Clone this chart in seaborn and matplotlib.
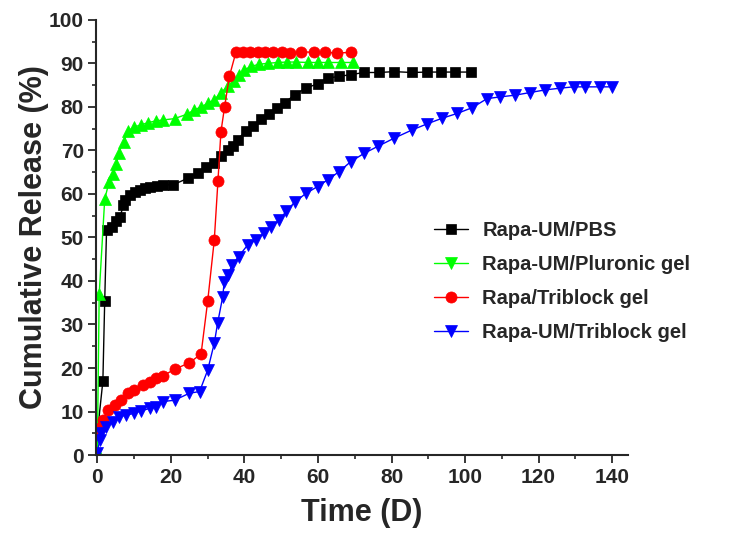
import matplotlib
matplotlib.use("Agg")
import matplotlib.pyplot as plt
import seaborn as sns
from matplotlib.ticker import MultipleLocator

# Rapa-UM/PBS
pbs_day = [0, 1.5, 2, 2.5, 3.9, 5.2, 6.2, 7.1, 7.5, 8.9, 10.2, 11.6, 12.9, 14.3, 16.1,
           17.9, 20.6, 24.6, 27.3, 29.6, 31.8, 33.6, 35.5, 36.8, 38.2, 40.4, 42.4,
           44.5, 46.7, 48.8, 51, 53.7, 56.7, 59.9, 62.6, 65.7, 68.9, 72.5, 76.6,
           80.7, 85.6, 89.7, 93.5, 97.4, 101.5]
pbs_rel = [5, 17, 35.5, 51.7, 52.5, 53.7, 54.8, 57.5, 58.6, 59.8, 60.5, 60.9, 61.3, 61.7, 61.8,
           62.1, 62.1, 63.6, 64.8, 66.3, 67, 68.6, 70.1, 70.9, 72.5, 74.5, 75.7,
           77.2, 78.4, 79.7, 81, 82.8, 84.3, 85.3, 86.6, 87, 87.4, 87.9, 87.9,
           88.1, 87.9, 88, 88, 88, 88]

# Rapa-UM/Pluronic gel
plu_day = [0, 0.5, 2, 3.2, 4.3, 5.2, 5.8, 7.2, 8.4, 10.1, 12, 13.9, 16, 17.9, 21, 24.3,
           26.4, 28.2, 30, 31.8, 33.6, 35.5, 37.2, 38.6, 40, 41.8, 44, 46.3, 49, 51.7,
           54, 57.2, 60, 62.7, 66.2, 69.5]
plu_rel = [1, 37, 58.8, 62.8, 64.5, 66.8, 69.5, 72, 74.5, 75.4, 75.9, 76.4, 76.8, 77, 77.3, 78.3,
           79.3, 80, 80.8, 81.6, 83.3, 84.7, 85.9, 87.4, 88.5, 89.3, 89.8, 90, 90.2, 90.3,
           90.3, 90.2, 90.2, 90.2, 90.2, 90.2]

# Rapa/Triblock gel
tri_day = [0, 1.1, 1.5, 2.9, 4.7, 6.5, 8.3, 10.1, 12.4, 14.2, 16, 17.8, 21, 25, 28.2,
           30, 31.8, 32.8, 33.6, 34.6, 35.9, 37.7, 39.5, 41.6, 43.6, 45.7, 47.8, 50.2,
           52.5, 55.5, 58.8, 62, 65.3, 68.9]
tri_rel = [5, 6.5, 8, 10.3, 11.5, 12.6, 14.2, 14.9, 16.1, 16.9, 17.6, 18.2, 19.7, 21.2, 23.2,
           35.3, 49.4, 63, 74.2, 80, 87, 92.6, 92.6, 92.6, 92.6, 92.6, 92.6, 92.5,
           92.4, 92.7, 92.5, 92.5, 92.4, 92.5]

# Rapa-UM/Triblock gel
umt_day = [0, 0.6, 1.1, 2.4, 4.3, 6, 7.9, 10.1, 11.9, 14.2, 16, 17.8, 21, 25, 27.8, 30,
           31.8, 32.7, 34.1, 34.5, 35.5, 36.6, 38.4, 40.9, 43.1, 45.4, 47.2, 49.5, 51.3,
           53.8, 56.7, 59.9, 62.6, 65.7, 68.9, 72.5, 76.2, 80.7, 85.6, 89.7, 93.8, 97.9,
           101.9, 106, 109.6, 113.7, 117.7, 121.8, 125.9, 129.5, 132.7, 136.7, 139.9]
umt_rel = [0.4, 3.4, 5, 6.5, 7.7, 8.8, 9.2, 9.6, 10.2, 10.7, 11.1, 12.3, 12.6, 14.2, 14.6, 19.5,
           25.7, 30.3, 36.4, 39.8, 41.4, 43.6, 45.6, 48.3, 49.4, 51, 52.5, 53.9, 56,
           58.2, 60.1, 61.7, 63.2, 65.1, 67.4, 69.3, 70.9, 72.8, 74.7, 76.1, 77.4, 78.5,
           79.8, 81.9, 82.3, 82.7, 83.3, 83.9, 84.3, 84.6, 84.6, 84.6, 84.6]

series = [
    (pbs_day, pbs_rel, "Rapa-UM/PBS", "black", "s", 7),
    (plu_day, plu_rel, "Rapa-UM/Pluronic gel", "#00ff00", "^", 9),
    (tri_day, tri_rel, "Rapa/Triblock gel", "#ff0000", "o", 8),
    (umt_day, umt_rel, "Rapa-UM/Triblock gel", "#0000ff", "v", 9),
]

sns.set_style("ticks")
plt.rcParams["font.family"] = ["Liberation Sans", "DejaVu Sans"]
plt.rcParams["font.weight"] = "bold"

fig = plt.figure(figsize=(7.52, 5.36), dpi=100)
ax = fig.add_axes([0.128, 0.151, 0.707, 0.812])

for x, y, name, c, m, ms in series:
    sns.lineplot(x=x, y=y, ax=ax, label=name, color=c, marker=m, markersize=ms,
                 markeredgecolor=c, markeredgewidth=0.5, linewidth=1,
                 estimator=None, sort=False)

ax.set_xlim(-0.3, 144.3)
ax.set_ylim(0, 100)
ax.xaxis.set_major_locator(MultipleLocator(20))
ax.xaxis.set_minor_locator(MultipleLocator(10))
ax.yaxis.set_major_locator(MultipleLocator(10))
ax.yaxis.set_minor_locator(MultipleLocator(5))
ax.tick_params(which="major", direction="out", length=6, width=1.3, labelsize=15, pad=3)
ax.tick_params(which="minor", direction="out", length=3, width=1.2)
for lab in ax.get_xticklabels() + ax.get_yticklabels():
    lab.set_fontweight("bold")
sns.despine(ax=ax)
for s in ["left", "bottom"]:
    ax.spines[s].set_linewidth(1.5)

ax.set_xlabel("Time (D)", fontsize=22, fontweight="bold", labelpad=8)
ax.set_ylabel("Cumulative Release (%)", fontsize=22, fontweight="bold", labelpad=0)

leg = ax.legend(loc="center left", bbox_to_anchor=(0.553, 0.475), bbox_transform=fig.transFigure,
                frameon=False, prop={"size": 14.5, "weight": "bold"}, handlelength=1.7,
                handletextpad=0.7, labelspacing=0.75)
# the original legend shows the Pluronic series with a down-pointing triangle
leg.legend_handles[1].set_marker("v")

fig.savefig("out.png", dpi=100)
